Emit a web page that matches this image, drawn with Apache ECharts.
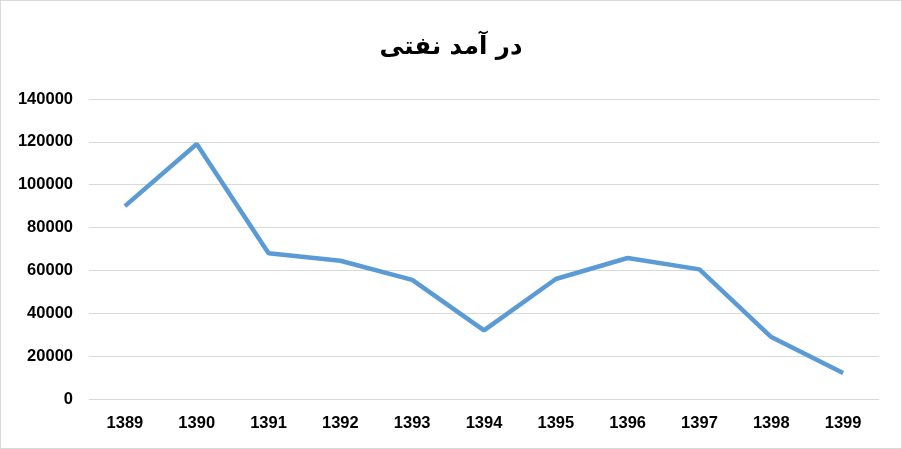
<!DOCTYPE html>
<html><head><meta charset="utf-8">
<script src="https://cdn.jsdelivr.net/npm/echarts@6/dist/echarts.min.js"></script>
<style>
html,body{margin:0;padding:0;background:#fff;}
#c{width:900px;height:447px;border:1px solid #d9d9d9;}
</style></head><body>
<div id="c"></div>
<script>
const titleText = 'در آمد نفتی';
const years = ['1389','1390','1391','1392','1393','1394','1395','1396','1397','1398','1399'];
const income = [90000, 119000, 68000, 64500, 55600, 32000, 56000, 65800, 60500, 28900, 12100];

const chart = echarts.init(document.getElementById('c'));
chart.setOption({
  animation: false,
  title: {
    text: titleText, left: 'center', top: 29,
    textStyle: {fontFamily: 'DejaVu Sans', fontWeight: 'bold', fontSize: 24.5, color: '#000'}
  },
  grid: {left: 88, right: 22, top: 98, bottom: 49},
  xAxis: {
    type: 'category', data: years, boundaryGap: true,
    axisLine: {show: false}, axisTick: {show: false},
    axisLabel: {color: '#000', fontWeight: 'bold', fontSize: 16.5, fontFamily: 'Liberation Sans', margin: 16}
  },
  yAxis: {
    type: 'value', min: 0, max: 140000, interval: 20000,
    axisLine: {show: false}, axisTick: {show: false},
    splitLine: {lineStyle: {color: '#d9d9d9', width: 1}},
    axisLabel: {color: '#000', fontWeight: 'bold', fontSize: 16.5, fontFamily: 'Liberation Sans', margin: 16,
      formatter: v => String(v)}
  },
  series: [{
    type: 'line', data: income, showSymbol: false, symbol: 'none',
    lineStyle: {color: '#5b9bd5', width: 4.5}
  }]
});
</script></body></html>
